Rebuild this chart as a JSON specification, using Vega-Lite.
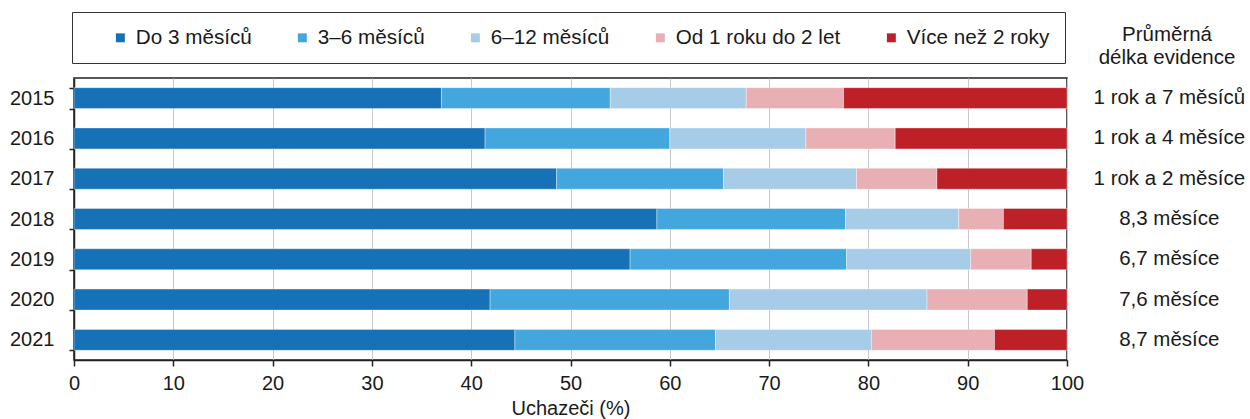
{
  "$schema": "https://vega.github.io/schema/vega-lite/v6.json",
  "autosize": {"type": "none"},
  "width": 993,
  "height": 282,
  "padding": {"left": 74, "top": 78, "right": 183, "bottom": 59},
  "background": "white",
  "config": {
    "font": "Liberation Sans",
    "view": {"stroke": "#222222", "strokeWidth": 1.5},
    "axis": {"labelFont": "Liberation Sans", "titleFont": "Liberation Sans", "labelColor": "#1a1a1a", "titleColor": "#1a1a1a"}
  },
  "title": {
    "text": ["Průměrná", "délka evidence"],
    "orient": "top",
    "anchor": "end",
    "align": "center",
    "frame": "group",
    "dx": 100,
    "offset": -57,
    "fontSize": 20.5,
    "fontWeight": "normal",
    "font": "Liberation Sans",
    "color": "#1a1a1a",
    "lineHeight": 23
  },
  "datasets": {
    "podily": [
      {"rok": "2015", "kategorie": "Do 3 měsíců", "poradi": 1, "podil": 37.0},
      {"rok": "2015", "kategorie": "3–6 měsíců", "poradi": 2, "podil": 17.0},
      {"rok": "2015", "kategorie": "6–12 měsíců", "poradi": 3, "podil": 13.7},
      {"rok": "2015", "kategorie": "Od 1 roku do 2 let", "poradi": 4, "podil": 9.8},
      {"rok": "2015", "kategorie": "Více než 2 roky", "poradi": 5, "podil": 22.5},
      {"rok": "2016", "kategorie": "Do 3 měsíců", "poradi": 1, "podil": 41.4},
      {"rok": "2016", "kategorie": "3–6 měsíců", "poradi": 2, "podil": 18.6},
      {"rok": "2016", "kategorie": "6–12 měsíců", "poradi": 3, "podil": 13.7},
      {"rok": "2016", "kategorie": "Od 1 roku do 2 let", "poradi": 4, "podil": 9.0},
      {"rok": "2016", "kategorie": "Více než 2 roky", "poradi": 5, "podil": 17.3},
      {"rok": "2017", "kategorie": "Do 3 měsíců", "poradi": 1, "podil": 48.6},
      {"rok": "2017", "kategorie": "3–6 měsíců", "poradi": 2, "podil": 16.8},
      {"rok": "2017", "kategorie": "6–12 měsíců", "poradi": 3, "podil": 13.4},
      {"rok": "2017", "kategorie": "Od 1 roku do 2 let", "poradi": 4, "podil": 8.1},
      {"rok": "2017", "kategorie": "Více než 2 roky", "poradi": 5, "podil": 13.1},
      {"rok": "2018", "kategorie": "Do 3 měsíců", "poradi": 1, "podil": 58.7},
      {"rok": "2018", "kategorie": "3–6 měsíců", "poradi": 2, "podil": 19.0},
      {"rok": "2018", "kategorie": "6–12 měsíců", "poradi": 3, "podil": 11.4},
      {"rok": "2018", "kategorie": "Od 1 roku do 2 let", "poradi": 4, "podil": 4.5},
      {"rok": "2018", "kategorie": "Více než 2 roky", "poradi": 5, "podil": 6.4},
      {"rok": "2019", "kategorie": "Do 3 měsíců", "poradi": 1, "podil": 56.0},
      {"rok": "2019", "kategorie": "3–6 měsíců", "poradi": 2, "podil": 21.8},
      {"rok": "2019", "kategorie": "6–12 měsíců", "poradi": 3, "podil": 12.5},
      {"rok": "2019", "kategorie": "Od 1 roku do 2 let", "poradi": 4, "podil": 6.1},
      {"rok": "2019", "kategorie": "Více než 2 roky", "poradi": 5, "podil": 3.6},
      {"rok": "2020", "kategorie": "Do 3 měsíců", "poradi": 1, "podil": 41.9},
      {"rok": "2020", "kategorie": "3–6 měsíců", "poradi": 2, "podil": 24.1},
      {"rok": "2020", "kategorie": "6–12 měsíců", "poradi": 3, "podil": 19.9},
      {"rok": "2020", "kategorie": "Od 1 roku do 2 let", "poradi": 4, "podil": 10.1},
      {"rok": "2020", "kategorie": "Více než 2 roky", "poradi": 5, "podil": 4.0},
      {"rok": "2021", "kategorie": "Do 3 měsíců", "poradi": 1, "podil": 44.4},
      {"rok": "2021", "kategorie": "3–6 měsíců", "poradi": 2, "podil": 20.2},
      {"rok": "2021", "kategorie": "6–12 měsíců", "poradi": 3, "podil": 15.7},
      {"rok": "2021", "kategorie": "Od 1 roku do 2 let", "poradi": 4, "podil": 12.4},
      {"rok": "2021", "kategorie": "Více než 2 roky", "poradi": 5, "podil": 7.3}
    ],
    "prumery": [
      {"rok": "2015", "prumer": "1 rok a 7 měsíců"},
      {"rok": "2016", "prumer": "1 rok a 4 měsíce"},
      {"rok": "2017", "prumer": "1 rok a 2 měsíce"},
      {"rok": "2018", "prumer": "8,3 měsíce"},
      {"rok": "2019", "prumer": "6,7 měsíce"},
      {"rok": "2020", "prumer": "7,6 měsíce"},
      {"rok": "2021", "prumer": "8,7 měsíce"}
    ]
  },
  "layer": [
    {
      "data": {"name": "podily"},
      "mark": {"type": "bar", "stroke": "white", "strokeWidth": 0.6, "strokeOpacity": 0.6},
      "encoding": {
        "y": {
          "field": "rok", "type": "nominal",
          "scale": {"paddingInner": 0.48, "paddingOuter": 0.24},
          "axis": {
            "title": null, "labelFontSize": 20, "labelPadding": 15,
            "tickBand": "extent", "tickSize": 5, "tickColor": "#222222",
            "domainColor": "#222222", "domainWidth": 1.5, "tickWidth": 1.5, "grid": false
          }
        },
        "x": {
          "field": "podil", "type": "quantitative", "stack": "zero",
          "scale": {"domain": [0, 100], "nice": false},
          "axis": {
            "title": "Uchazeči (%)", "titleFontSize": 20, "titleFontWeight": "normal",
            "labelFontSize": 20, "labelPadding": 7, "titlePadding": 5, "labelFlush": false,
            "values": [0, 10, 20, 30, 40, 50, 60, 70, 80, 90, 100],
            "tickSize": 6, "tickColor": "#222222", "tickWidth": 1.5,
            "domainColor": "#222222", "domainWidth": 1.5,
            "grid": true, "gridColor": "#c8c8c8"
          }
        },
        "order": {"field": "poradi", "type": "quantitative", "sort": "ascending"},
        "color": {
          "field": "kategorie", "type": "nominal",
          "sort": ["Do 3 měsíců", "3–6 měsíců", "6–12 měsíců", "Od 1 roku do 2 let", "Více než 2 roky"],
          "scale": {
            "domain": ["Do 3 měsíců", "3–6 měsíců", "6–12 měsíců", "Od 1 roku do 2 let", "Více než 2 roky"],
            "range": ["#1771b7", "#43a7dd", "#a6cce7", "#e8b0b4", "#bd2027"]
          },
          "legend": {
            "orient": "none", "legendX": -2, "legendY": -66,
            "direction": "horizontal", "columns": 5, "columnPadding": 40,
            "padding": 15, "strokeColor": "#333333",
            "title": "\u00a0", "titleOrient": "left", "titlePadding": 23, "titleFontSize": 20,
            "symbolType": "square", "symbolSize": 80, "symbolStrokeWidth": 0,
            "labelFontSize": 20.7, "labelOffset": 5, "labelColor": "#1a1a1a", "labelLimit": 400
          }
        }
      }
    },
    {
      "data": {"name": "prumery"},
      "mark": {"type": "text", "fontSize": 20.5, "color": "#1a1a1a", "align": "center", "baseline": "middle", "dx": 3},
      "encoding": {
        "y": {"field": "rok", "type": "nominal"},
        "x": {"datum": 110, "type": "quantitative"},
        "text": {"field": "prumer"}
      }
    }
  ]
}
